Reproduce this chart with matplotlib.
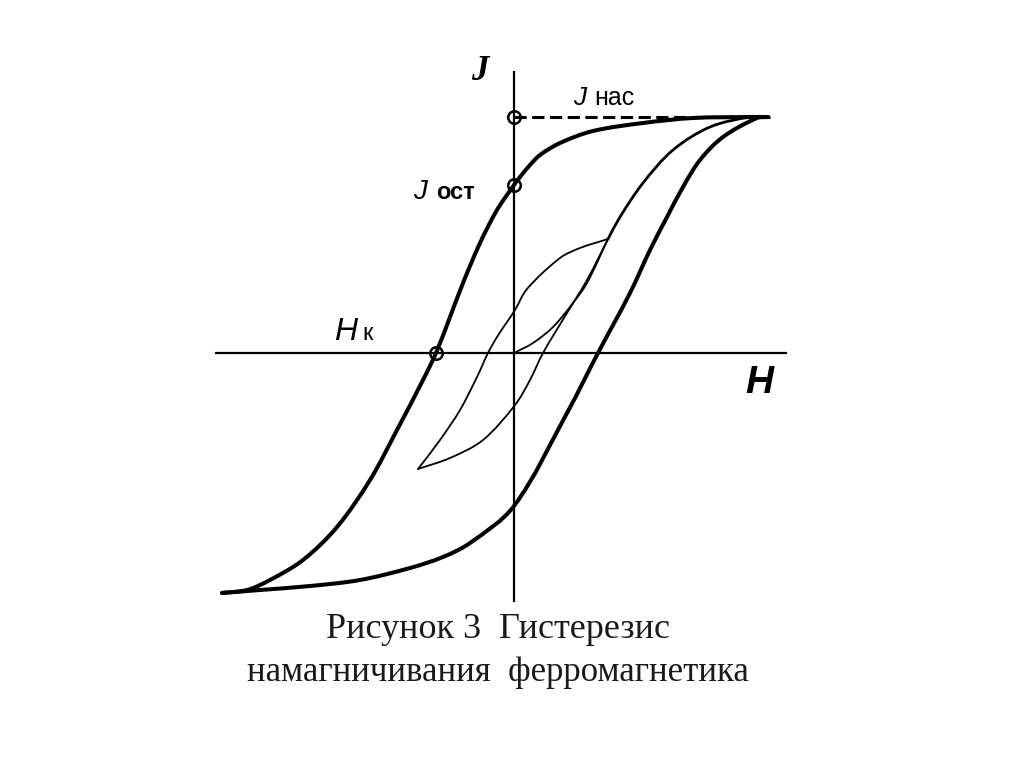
# -*- coding: utf-8 -*-
# Hysteresis loop of a ferromagnet (schematic), redrawn with matplotlib
import numpy as np
import matplotlib.pyplot as plt
from matplotlib.path import Path
from matplotlib.patches import PathPatch

# outer (major) loop, arbitrary units: H along x, J along y
outer_down_H = [25.4, 23.9, 17.9, 12.9, 7.9, 4.6, 2.6, 1.6, 0.6, 0.0, -1.7, -3.4,
                -5.1, -6.4, -7.8, -9.1, -11.7, -14.4, -17.7, -21.1, -24.4, -26.7, -29.2]
outer_down_J = [23.6, 23.6, 23.5, 23.0, 22.2, 21.0, 19.8, 18.8, 17.6, 16.8, 14.3, 11.0,
                7.0, 3.6, 0.0, -2.7, -7.7, -12.7, -17.4, -20.7, -22.7, -23.7, -24.0]
outer_up_H = [-29.2, -25.4, -20.4, -15.4, -10.4, -7.1, -4.4, 0.0, 5.3, 8.4,
              11.6, 13.6, 15.3, 16.9, 18.6, 20.9, 24.3, 25.4]
outer_up_J = [-24.0, -23.7, -23.3, -22.7, -21.5, -20.4, -19.0, -15.3, -6.0, 0.0,
              6.0, 10.3, 13.6, 16.6, 19.3, 21.6, 23.5, 23.6]

# initial magnetization curve
init_H = [0.0, 1.9, 3.9, 5.9, 7.3, 9.4]
init_J = [0.0, 1.0, 2.6, 5.0, 7.0, 11.4]
init_top_H = [9.4, 10.6, 12.9, 15.9, 19.6, 23.6, 25.4]
init_top_J = [11.4, 13.6, 17.0, 20.3, 22.6, 23.6, 23.6]

# small (minor) loop
minor_up_H = [-9.6, -6.4, -3.1, 0.1, 1.6, 2.9, 5.3, 7.3, 9.4]
minor_up_J = [-11.6, -10.5, -8.7, -5.2, -2.7, 0.0, 4.0, 7.3, 11.4]
minor_down_H = [9.4, 6.6, 4.6, 1.3, 0.1, -0.7, -1.7, -2.6, -3.7, -5.4, -7.4, -9.6]
minor_down_J = [11.4, 10.5, 9.5, 6.4, 4.3, 3.1, 1.6, 0.0, -2.4, -5.7, -8.7, -11.6]

# characteristic points: J_sat, J_rem, H_c
J_sat = 23.6
J_rem = 16.8
H_c = -7.8
H_sat_line = 25.6

# extent of the drawn axes
H_axis = [-29.9, 27.3]
J_axis = [-24.9, 28.2]

caption = ['Рисунок 3  Гистерезис', 'намагничивания  ферромагнетика']


def smooth_curve(ax, xs, ys, lw):
    # draws the points as one smooth Bezier path, tangents scaled by chord length
    p = np.column_stack([xs, ys]).astype(float)
    n = len(p)
    d = np.hypot(*np.diff(p, axis=0).T)
    tang = np.zeros_like(p)
    tang[0] = (p[1] - p[0]) / d[0]
    tang[-1] = (p[-1] - p[-2]) / d[-1]
    for i in range(1, n - 1):
        tang[i] = (p[i + 1] - p[i - 1]) / (d[i - 1] + d[i])
    verts = [p[0]]
    codes = [Path.MOVETO]
    for i in range(n - 1):
        verts += [p[i] + tang[i] * d[i] / 3.0, p[i + 1] - tang[i + 1] * d[i] / 3.0, p[i + 1]]
        codes += [Path.CURVE4] * 3
    patch = PathPatch(Path(verts, codes), fill=False, edgecolor='black', lw=lw,
                      capstyle='round', joinstyle='round')
    ax.add_patch(patch)


fig = plt.figure(figsize=(10.24, 7.67), dpi=100)
ax = fig.add_axes([0, 0, 1, 1])
ax.set_xlim(-51.4, 51.0)
ax.set_ylim(-41.4, 35.3)
ax.axis('off')

# coordinate axes
ax.plot(H_axis, [0, 0], color='black', lw=1.6, solid_capstyle='butt')
ax.plot([0, 0], J_axis, color='black', lw=1.6, solid_capstyle='butt')

# curves
smooth_curve(ax, outer_down_H, outer_down_J, 2.9)
smooth_curve(ax, outer_up_H, outer_up_J, 2.9)
smooth_curve(ax, init_H, init_J, 1.3)
smooth_curve(ax, init_top_H, init_top_J, 2.0)
smooth_curve(ax, minor_up_H, minor_up_J, 1.3)
smooth_curve(ax, minor_down_H, minor_down_J, 1.3)

# saturation level
ax.plot([0, H_sat_line], [J_sat, J_sat], color='black', lw=2.2,
        linestyle=(0, (4, 1.8)))

# marked points
ax.plot([0, 0, H_c], [J_sat, J_rem, 0], 'o', ms=9, mfc='none', mec='black', mew=1.8)

sans = 'Liberation Sans'
serif = 'Liberation Serif'

ax.text(-3.4, 28.1, 'J', family=serif, weight='bold', style='italic', fontsize=25,
        ha='center', va='center')
ax.text(23.1, -4.0, 'H', family=sans, weight='bold', style='italic', fontsize=28,
        ha='left', va='baseline')

ax.text(5.9, 24.8, 'J', family=sans, style='italic', fontsize=19, ha='left', va='baseline')
ax.text(8.0, 24.8, 'нас', family=sans, fontsize=18, ha='left', va='baseline')

ax.text(-10.1, 15.4, 'J', family=sans, style='italic', fontsize=20, ha='left', va='baseline')
ax.text(-7.8, 15.4, 'ост', family=sans, weight='bold', fontsize=17, ha='left', va='baseline')

ax.text(-18.0, 1.3, 'H', family=sans, style='italic', fontsize=23, ha='left', va='baseline')
ax.text(-15.2, 1.3, 'к', family=sans, fontsize=17, ha='left', va='baseline')

# caption under the figure
ax.text(-1.6, -28.5, caption[0], family=serif, fontsize=26, color='#1a1a1a',
        ha='center', va='baseline')
ax.text(-1.6, -32.8, caption[1], family=serif, fontsize=25, color='#1a1a1a',
        ha='center', va='baseline')

plt.savefig('out.png', dpi=100)
